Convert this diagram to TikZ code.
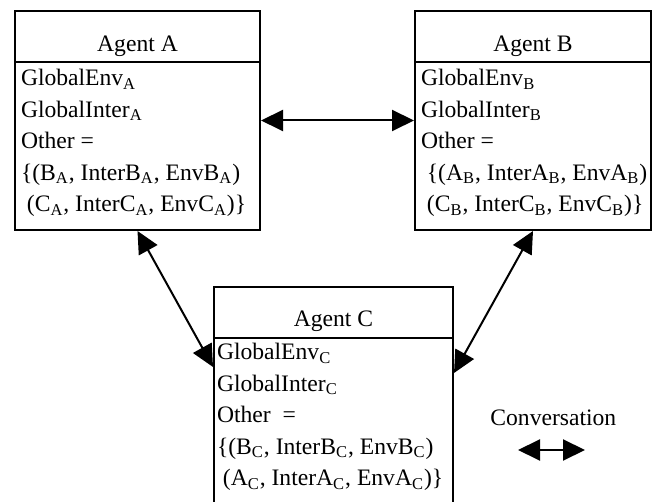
\documentclass[tikz,border=0pt]{standalone}
\usepackage{fontspec}
\setmainfont{Liberation Serif}
\usetikzlibrary{positioning,arrows.meta}

\tikzset{
  agent/.style={draw, line width=1pt, anchor=north west, minimum height=109.5pt, inner sep=0pt},
  fields/.style={anchor=north west, align=left, inner sep=0pt, font=\fontsize{11.8}{15.8}\selectfont},
  title/.style={anchor=base, inner sep=0pt, font=\fontsize{11.8}{14}\selectfont},
  conv/.style={line width=1pt, {Triangle[length=11pt,width=10.5pt]}-{Triangle[length=11pt,width=10.5pt]}},
}

\begin{document}
\begin{tikzpicture}[x=1pt,y=1pt]
    \useasboundingbox (0,0) rectangle (328.5,251);
    \clip (0,0) rectangle (328.5,251);

    % agents
    \node[agent, minimum width=122.5pt] (A) at (7,246) {};
    \node[agent, minimum width=118pt] (B) at (207,246) {};
    \node[agent, minimum width=119.5pt] (C) at (106.5,108) {};

    \draw[line width=1pt] ([yshift=-26pt]A.north west) -- ([yshift=-26pt]A.north east);
    \draw[line width=1pt] ([yshift=-26pt]B.north west) -- ([yshift=-26pt]B.north east);
    \draw[line width=1pt] ([yshift=-26pt]C.north west) -- ([yshift=-26pt]C.north east);

    \node[title] (titleA) at ([yshift=-21pt]A.north) {Agent A};
    \node[title] (titleB) at ([yshift=-21pt]B.north) {Agent B};
    \node[title] (titleC) at ([yshift=-20.5pt]C.north) {Agent C};

    \node[fields] (fieldsA) at ([shift={(3.3pt,-29.4pt)}]A.north west) {GlobalEnv\textsubscript{A}\\
        GlobalInter\textsubscript{A}\\
        Other =\\
        \{(B\textsubscript{A}, InterB\textsubscript{A}, EnvB\textsubscript{A})\\
        ~(C\textsubscript{A}, InterC\textsubscript{A}, EnvC\textsubscript{A})\}};
    \node[fields] (fieldsB) at ([shift={(3.3pt,-29.4pt)}]B.north west) {GlobalEnv\textsubscript{B}\\
        GlobalInter\textsubscript{B}\\
        Other =\\
        ~\{(A\textsubscript{B}, InterA\textsubscript{B}, EnvA\textsubscript{B})\\
        ~(C\textsubscript{B}, InterC\textsubscript{B}, EnvC\textsubscript{B})\}};
    \node[fields] (fieldsC) at ([shift={(1.8pt,-28.4pt)}]C.north west) {GlobalEnv\textsubscript{C}\\
        GlobalInter\textsubscript{C}\\
        Other~ =\\
        \{(B\textsubscript{C}, InterB\textsubscript{C}, EnvB\textsubscript{C})\\
        ~(A\textsubscript{C}, InterA\textsubscript{C}, EnvA\textsubscript{C})\}};

    % conversations
    \coordinate (Cleft) at ([yshift=-40.5pt]C.north west);
    \coordinate (Cright) at ([yshift=-43.5pt]C.north east);
    \draw[conv] (A.east) -- (B.west);
    \draw[conv] (A.south) -- (Cleft);
    \draw[conv] (B.south) -- (Cright);

    % legend
    \node[title, anchor=base west] (convlabel) at (245,38) {Conversation};
    \coordinate (convleft) at ([shift={(14pt,-12pt)}]convlabel.base west);
    \coordinate (convright) at ([shift={(47.5pt,-12pt)}]convlabel.base west);
    \draw[conv] (convleft) -- (convright);
\end{tikzpicture}
\end{document}
